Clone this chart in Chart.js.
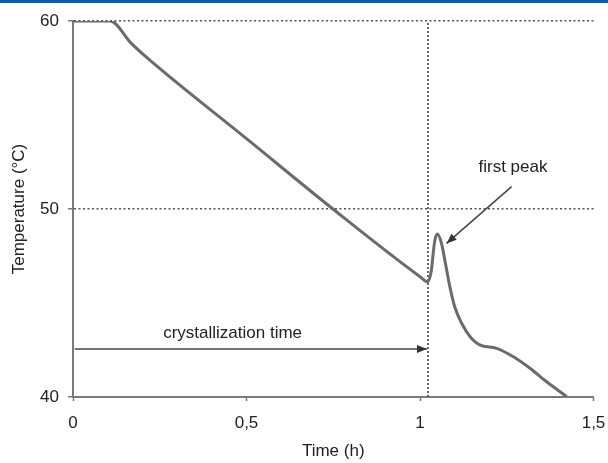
<!DOCTYPE html>
<html>
<head>
<meta charset="utf-8">
<script src="https://cdn.jsdelivr.net/npm/chart.js@4/dist/chart.umd.min.js"></script>
<style>
  html, body { margin: 0; padding: 0; background: #fff; }
  #wrap { width: 608px; height: 463px; position: relative; }
</style>
</head>
<body>
<div id="wrap"><canvas id="c" width="608" height="463"></canvas></div>
<script>
// Cooling curve: time (h) vs temperature (°C)
const timeH = [0, 0.107, 0.168, 0.2206, 0.5, 0.749, 1.0, 1.0216, 1.033, 1.038, 1.043, 1.0505,
  1.062, 1.0715, 1.086, 1.1, 1.12, 1.148, 1.172, 1.221, 1.269, 1.317, 1.365, 1.423];
const tempC = [60, 60, 58.81, 57.93, 53.74, 50.0, 46.4, 46.13, 46.76, 47.64, 48.35, 48.67,
  48.17, 47.29, 45.87, 44.8, 43.92, 43.12, 42.77, 42.59, 42.14, 41.53, 40.81, 40.02];

// Tick labels (decimal comma)
const xTickLabels = ['0', '0,5', '1', '1,5'];
const yTickLabels = ['40', '50', '60'];

// End of crystallization marker
const crystTime = 1.023;
const crystArrow = { from: [0.005, 42.55], to: [1.02, 42.55], text: 'crystallization time', textAt: [0.46, 43.4] };
const peakArrow = { from: [1.264, 51.19], to: [1.0765, 48.17], text: 'first peak', textAt: [1.268, 52.2] };

const FONT = '"Liberation Sans", Arial, sans-serif';
const TEXT = '#222';
const AXIS = '#7a7a7a';

const curve = timeH.map((t, i) => ({ x: t, y: tempC[i] }));

const decor = {
  id: 'decor',
  beforeDraw(chart) {
    const ctx = chart.ctx;
    ctx.save();
    ctx.fillStyle = '#1457a3';
    ctx.fillRect(0, 0, chart.width, 3);
    ctx.restore();
  },
  afterDatasetsDraw(chart) {
    const { ctx, scales: { x, y } } = chart;
    const head = (a, b) => {
      const x1 = x.getPixelForValue(a[0]), y1 = y.getPixelForValue(a[1]);
      const x2 = x.getPixelForValue(b[0]), y2 = y.getPixelForValue(b[1]);
      const ang = Math.atan2(y2 - y1, x2 - x1);
      const L = 10, W = 4;
      ctx.beginPath();
      ctx.moveTo(x2, y2);
      ctx.lineTo(x2 - L * Math.cos(ang) + W * Math.sin(ang), y2 - L * Math.sin(ang) - W * Math.cos(ang));
      ctx.lineTo(x2 - L * Math.cos(ang) - W * Math.sin(ang), y2 - L * Math.sin(ang) + W * Math.cos(ang));
      ctx.closePath();
      ctx.fill();
    };
    ctx.save();
    ctx.fillStyle = '#333';
    head(crystArrow.from, crystArrow.to);
    head(peakArrow.from, peakArrow.to);
    ctx.font = '17px ' + FONT;
    ctx.fillStyle = TEXT;
    ctx.textAlign = 'center';
    ctx.textBaseline = 'middle';
    [crystArrow, peakArrow].forEach(a => {
      ctx.fillText(a.text, x.getPixelForValue(a.textAt[0]), y.getPixelForValue(a.textAt[1]));
    });
    ctx.restore();
  }
};

new Chart(document.getElementById('c'), {
  type: 'line',
  data: {
    datasets: [
      {
        data: curve,
        borderColor: '#6b6b6b',
        borderWidth: 3,
        pointRadius: 0,
        cubicInterpolationMode: 'monotone',
        fill: false
      },
      {
        data: [{ x: crystTime, y: 40 }, { x: crystTime, y: 60 }],
        borderColor: '#444',
        borderWidth: 1.6,
        borderDash: [2, 2],
        pointRadius: 0
      },
      {
        data: [{ x: crystArrow.from[0], y: crystArrow.from[1] }, { x: crystArrow.to[0], y: crystArrow.to[1] }],
        borderColor: '#444',
        borderWidth: 1.5,
        pointRadius: 0
      },
      {
        data: [{ x: peakArrow.from[0], y: peakArrow.from[1] }, { x: peakArrow.to[0], y: peakArrow.to[1] }],
        borderColor: '#444',
        borderWidth: 1.5,
        pointRadius: 0
      }
    ]
  },
  options: {
    responsive: false,
    animation: false,
    events: [],
    layout: { padding: { top: 21, right: 14.5, left: 0, bottom: 0 } },
    plugins: { legend: { display: false }, tooltip: { enabled: false } },
    scales: {
      x: {
        type: 'linear',
        min: 0, max: 1.5,
        afterFit(s) { s.height = 66; s.paddingLeft = 0; s.paddingRight = 0; },
        ticks: {
          stepSize: 0.5,
          maxRotation: 0,
          padding: 12,
          color: TEXT,
          font: { family: FONT, size: 17 },
          callback: (v, i) => xTickLabels[i]
        },
        grid: { drawOnChartArea: false, drawTicks: true, tickLength: 4, tickColor: AXIS, tickWidth: 1.5 },
        border: { display: true, color: AXIS, width: 2 },
        title: { display: true, text: 'Time (h)', color: TEXT, font: { family: FONT, size: 17 }, padding: { top: 0, bottom: 1 } }
      },
      y: {
        type: 'linear',
        min: 40, max: 60,
        afterFit(s) { s.width = 73; s.paddingTop = 0; s.paddingBottom = 0; },
        ticks: {
          stepSize: 10,
          padding: 9,
          color: TEXT,
          font: { family: FONT, size: 17 },
          callback: (v, i) => yTickLabels[i]
        },
        grid: {
          color: c => (c.tick && c.tick.value === 40) ? 'rgba(0,0,0,0)' : '#555',
          lineWidth: 1.5,
          tickLength: 5,
          tickColor: AXIS,
          tickWidth: 1.5,
          tickBorderDash: []
        },
        border: { display: true, color: AXIS, width: 2, dash: [2, 2.5] },
        title: { display: true, text: 'Temperature (°C)', color: TEXT, font: { family: FONT, size: 17 }, padding: { top: 9, bottom: 0 } }
      }
    }
  },
  plugins: [decor]
});
</script>
</body>
</html>
